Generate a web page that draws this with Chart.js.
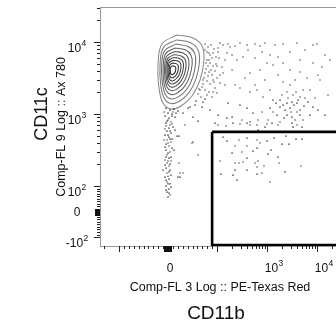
<!DOCTYPE html>
<html><head><meta charset="utf-8">
<script src="https://cdn.jsdelivr.net/npm/chart.js@4.4.1/dist/chart.umd.min.js"></script>
<style>
html,body{margin:0;padding:0;background:#fff;overflow:hidden;width:336px;height:329px;}
#wrap{position:absolute;left:0;top:0;width:345px;height:329px;}
</style></head>
<body><div id="wrap"><canvas id="c"></canvas></div>
<script>
// ---------- axis settings (biexponential display) ----------
const xAxisTitle = "Comp-FL 3 Log :: PE-Texas Red";
const xMarker = "CD11b";
const yAxisTitle = "Comp-FL 9 Log :: Ax 780";
const yMarker = "CD11c";

const xLabelValues = [0, 1000, 10000];
const xLabelBases = ["0", "10", "10"];
const xLabelExps = ["", "3", "4"];
const yLabelValues = [-100, 0, 100, 1000, 10000];
const yLabelBases = ["-10", "0", "10", "10", "10"];
const yLabelExps = ["2", "", "2", "3", "4"];

const xMajorTicks = [-100, 100, 1000, 10000];
const xMinorTicks = [-200, -90, -80, -70, -60, -50, -40, -30, -20, -10, 10, 20, 30, 40, 50, 60, 70, 80, 90,
  200, 300, 400, 500, 600, 700, 800, 900, 2000, 3000, 4000, 5000, 6000, 7000, 8000, 9000, 20000];
const yMajorTicks = [-100, 100, 1000, 10000];
const yMinorTicks = [-90, -80, -70, -60, -50, -40, -30, -20, -10, 10, 20, 30, 40, 50, 60, 70, 80, 90,
  200, 300, 400, 500, 600, 700, 800, 900, 2000, 3000, 4000, 5000, 6000, 7000, 8000, 9000, 20000, 30000];

// ---------- contour rings of the main population (CD11b ~0, CD11c high) ----------
const ring1 = [[18.4,12500],[51,11370],[69.4,8800],[73.4,5627],[65.3,2968],[49,1779],[26.5,1292],[6.1,1174],[-10.2,1422],[-18.4,2298],[-20.4,4794],[-12.2,9385]];
const ring2 = [[16.9,10697],[45.1,9845],[60.8,7897],[64.3,5380],[57.3,3103],[43.2,1996],[23.9,1516],[6.3,1400],[-7.5,1648],[-14.7,2489],[-16.3,4688],[-9.4,8364]];
const ring3 = [[15.7,9354],[39.8,8717],[53.4,7220],[56.5,5178],[50.4,3225],[38.4,2211],[21.8,1745],[6.7,1621],[-5.5,1873],[-11.4,2671],[-13.1,4599],[-6.9,7549]];
const ring4 = [[14.7,8257],[35.1,7795],[46.7,6622],[49.4,4998],[44.1,3340],[33.9,2419],[19.8,1977],[6.9,1861],[-3.5,2101],[-8.6,2847],[-9.8,4511],[-4.7,6905]];
const ring5 = [[13.7,7384],[30.8,7039],[40.6,6134],[42.8,4841],[38.4,3449],[29.8,2628],[18,2218],[7.1,2108],[-1.6,2335],[-5.9,3016],[-6.9,4440],[-2.7,6352]];
const ring6 = [[12.6,6686],[26.9,6414],[35.1,5735],[36.9,4703],[33.3,3550],[26.1,2838],[16.3,2465],[7.3,2357],[0,2570],[-3.5,3174],[-4.5,4383],[-0.8,5883]];
const ring7 = [[11.8,6114],[23.7,5902],[30.2,5380],[31.6,4584],[28.8,3642],[22.8,3026],[14.7,2696],[7.3,2611],[1.6,2793],[-1.4,3319],[-2,4328],[0.8,5518]];
const ring8 = [[11,5590],[20.2,5449],[25.3,5061],[26.5,4469],[24.1,3736],[19.6,3235],[13.3,2958],[7.5,2884],[3.1,3045],[0.8,3482],[0.2,4272],[2.4,5161]];
const ring9 = [[10.2,5110],[16.7,5013],[20.4,4763],[21.2,4356],[19.6,3832],[16.3,3460],[11.8,3245],[7.8,3183],[4.5,3308],[2.9,3642],[2.4,4219],[4.1,4825]];
const ring10 = [[9.4,4673],[13.3,4614],[15.5,4483],[15.9,4245],[15.1,3931],[13.1,3700],[10.4,3561],[8,3516],[5.9,3595],[4.9,3808],[4.7,4165],[5.7,4511]];
const contourRings = [ring1, ring2, ring3, ring4, ring5, ring6, ring7, ring8, ring9, ring10];

// ---------- outlier events drawn as dots ----------
const eventsNearPop = [[75.5,9385],[81.6,8523],[87.7,9089],[93.8,7998],[79.6,7267],[85.7,6601],[91.8,7039],[97.9,6191],[79.6,5627],[85.7,5110],[91.8,4643],[97.9,4950],[77.5,4219],[83.6,3832],[89.8,3482],[95.9,3958],[73.4,3164],[79.6,2874],[85.7,2611],[91.8,2968],[69.4,2372],[75.5,2155],[83.6,2022],[61.2,1897],[67.3,1723],[75.5,1616],[57.1,1516],[95.9,2298],[100,3164],[105,8257],[110,5998],[81.6,4643],[71.4,2611],[63.2,2226],[89.8,1723],
  [75.5,7745],[83.6,7039],[89.8,5998],[77.5,5110],[83.6,5627],[75.5,3712],[87.7,4087],[71.4,2968],[81.6,3373],[93.8,2783],[65.3,2155],[79.6,1837],[71.4,1468],[55.1,1334],[40.8,1212],[100,4643],[115,3482],[91.8,2022]];
const eventsTopBand = [[115,9690],[132,9089],[166,9385],[229,8800],[288,9690],[398,9089],[575,9385],[912,9690],[1445,9089],[2089,9385],[3981,9690],[8318,9089],[10000,9385],[182,8523],[724,8800]];
const eventsMid = [[105,7267],[158,7039],[200,6601],[251,5627],[331,6191],[126,4498],[200,4087],[132,3712],[115,2696],[100,1960],[145,2529],[229,2529],[457,3712],[724,4087],[1000,5110],[1318,4794],[2089,5110],[4571,5627],[8318,5110],[11482,2968],[4571,3832],[3631,2968],[2089,2783],[2884,2529],[6310,3164],[12589,4498],[288,2298],[457,2022],[631,2155],[832,1723],[1318,1565],[1820,1565],[2512,1422],[3162,1468],[3981,1422],[4571,1723],[5754,1669],[1820,1251],[2291,1137],[2884,1212],[3981,1067],[4571,1137],[1318,1067],[1585,969],[2512,969],[3162,909],[3631,826],[5248,826],[7244,969],[8318,1251],[5248,2155],[2512,2022],[3311,1837],[6607,1468],[166,1422],[288,1334],[398,1212],[525,1033],[200,909],[105,969],[85.7,1137],[69.4,1251],[44.9,1251],[30.6,1033],[51,909],[158,880],[316,826],[457,775],[661,826],[1047,826],[363,3164],[575,5998],[1148,6601],[2884,7267],[14454,6601],[1660,3482],[912,2968],[16596,1837],[10471,1137],[1995,1837],[2630,1669],[3467,1334],[2188,880],[1148,1212],[794,1067],[4169,1565],[5495,1292],
  [4.1,704],[34.7,704],[61.2,800],[95.9,750],[105,704],[151,682],[209,750],[288,727],[398,750],[457,704],[631,704],[1000,727],[1259,750],[1660,704],[1820,775],[3162,750],[3981,704],[5012,660],[3311,660],[661,600],[912,660],
  [145,5627],[417,7745],[794,7267],[1660,6191],[5754,7745],[18200,5627],[10471,3482],[2884,4087],[575,2529],[1148,2155],[7244,2155],[2089,1334],[3020,1067],[4571,969],[1514,1422],[3802,2022],[9120,1669],[14454,969]];
const eventsInGate = [[132,479],[158,422],[275,436],[398,464],[631,436],[724,396],[1000,422],[1380,464],[2399,495],[3802,450],[5012,450],[229,360],[398,360],[631,337],[1202,316],[1995,383],[2754,383],[200,287],[316,297],[525,306],[1047,278],[1660,253],[398,245],[115,223],[229,209],[275,209],[331,216],[575,209],[661,223],[1738,209],[4786,190],[631,184],[871,190],[229,167],[398,167],[120,147],[209,142],[631,147],[794,152],[2291,157],[251,121],[1148,114]];
const eventsTail = [[-4.1,1212],[4.1,1137],[12.2,1174],[20.4,1101],[0,1033],[8.2,1000],[-6.1,938],[2,880],[14.3,909],[-2,800],[6.1,775],[-4.1,682],[2,639],[10.2,660],[-2,581],[6.1,545],[-6.1,511],[2,479],[-2,436],[6.1,409],[-4.1,383],[2,360],[8.2,337],[-4.1,316],[4.1,297],[-2,270],[2,245],[-6.1,230],[6.1,223],[-2,209],[2,190],[-4.1,178],[4.1,167],[-2,152],[6.1,142],[-6.1,133],[2,125],[-2,114],[4.1,107],[-4.1,100],[2,88],[-2,76],[4.1,65],[0,57],[22.4,495],[18.4,495],[51,409],[49,396],[61.2,270],[22.4,209],[24.5,152],[30.6,152],[24.5,133],[20.4,133],[14.3,600],[-8.2,436],[12.2,316],[-10.2,167],
  [-8.2,1067],[10.2,1067],[16.3,1033],[0,826],[8.2,727],[-6.1,620],[4.1,450],[0,396],[-4.1,253],[4.1,202],[0,137],[-4.1,84],[6.1,96],
  [8.2,938],[-4.1,750],[4.1,581],[0,511],[8.2,450],[-6.1,348],[0,287],[6.1,253],[0,223],[-6.1,196],[2,157],[-4.1,121],[0,107],[2,72.5]];

// ---------- gate (CD11b+ region) ----------
const gateCorners = [[90,565],[60000,565],[60000,-129],[90,-129],[90,565]];

// ---------- axis ranges / transform parameters ----------
const xRange = [-240, 27540];
const yRange = [-133, 30620];
const xTransform = {T: 100, s: 0.98};
const yTransform = {T: 100, s: 0.354};

// ---------- biexponential scale ----------
function biexFwd(v, T, s) { const a = Math.abs(v); const r = a <= T ? a / T * s : s + Math.log10(a / T); return v < 0 ? -r : r; }
function biexInv(r, T, s) { const a = Math.abs(r); const v = a <= s ? a / s * T : T * Math.pow(10, a - s); return r < 0 ? -v : v; }

class BiexScale extends Chart.Scale {
  parse(raw) { return raw == null ? null : +raw; }
  determineDataLimits() { this.min = this.options.min; this.max = this.options.max; }
  buildTicks() { return (this.options.tickValues || []).map(v => ({value: v})); }
  getLabelForValue(v) { return String(v); }
  configure() {
    super.configure();
    const o = this.options;
    this._t0 = biexFwd(this.min, o.T, o.s);
    this._t1 = biexFwd(this.max, o.T, o.s);
  }
  getPixelForValue(v) {
    const o = this.options;
    return this.getPixelForDecimal((biexFwd(v, o.T, o.s) - this._t0) / (this._t1 - this._t0));
  }
  getValueForPixel(p) {
    const o = this.options;
    return biexInv(this._t0 + this.getDecimalForPixel(p) * (this._t1 - this._t0), o.T, o.s);
  }
}
BiexScale.id = 'biex';
BiexScale.defaults = {};
Chart.register(BiexScale);

const FONT = '"Liberation Sans", Arial, Helvetica, sans-serif';

function drawPowLabel(ctx, base, exp, cx, baseY) {
  ctx.font = '12px ' + FONT;
  const wb = ctx.measureText(base).width;
  ctx.font = '8.5px ' + FONT;
  const we = exp ? ctx.measureText(exp).width : 0;
  const total = wb + (exp ? we + 0.5 : 0);
  const x0 = cx - total / 2;
  ctx.textAlign = 'left';
  ctx.textBaseline = 'alphabetic';
  ctx.font = '12px ' + FONT;
  ctx.fillText(base, x0, baseY);
  if (exp) { ctx.font = '8.5px ' + FONT; ctx.fillText(exp, x0 + wb + 0.5, baseY - 6); }
}

const axesPlugin = {
  id: 'flowAxes',
  beforeDatasetsDraw(chart) {
    const {ctx, chartArea: a} = chart;
    ctx.save();
    ctx.strokeStyle = '#9a9a9a';
    ctx.lineWidth = 1;
    ctx.strokeRect(a.left + 0.5, a.top + 0.5, a.right - a.left, a.bottom - a.top);
    ctx.restore();
  },
  afterDraw(chart) {
    const {ctx, chartArea: a} = chart;
    const xs = chart.scales.x, ys = chart.scales.y;
    ctx.save();
    ctx.strokeStyle = '#222';
    ctx.fillStyle = '#111';
    ctx.lineWidth = 1;
    const yt = (v, len) => { const p = Math.round(ys.getPixelForValue(v)) + 0.5; ctx.beginPath(); ctx.moveTo(a.left - len, p); ctx.lineTo(a.left, p); ctx.stroke(); };
    yMinorTicks.forEach(v => yt(v, 3));
    yMajorTicks.forEach(v => yt(v, 6));
    const y0 = ys.getPixelForValue(0);
    ctx.fillRect(a.left - 5, Math.round(y0) - 3, 5, 7);
    const xt = (v, len) => { const p = Math.round(xs.getPixelForValue(v)) + 0.5; ctx.beginPath(); ctx.moveTo(p, a.bottom); ctx.lineTo(p, a.bottom + len); ctx.stroke(); };
    xMinorTicks.forEach(v => xt(v, 3));
    xMajorTicks.forEach(v => xt(v, 6));
    const x0 = xs.getPixelForValue(0);
    ctx.fillRect(Math.round(x0) - 4, a.bottom, 8, 6);
    ctx.fillStyle = '#111';
    yLabelValues.forEach((v, i) => {
      const p = ys.getPixelForValue(v);
      drawPowLabel(ctx, yLabelBases[i], yLabelExps[i], 77, p + (yLabelExps[i] ? 9.5 : 4.5));
    });
    xLabelValues.forEach((v, i) => {
      const p = xs.getPixelForValue(v);
      drawPowLabel(ctx, xLabelBases[i], xLabelExps[i], p + (xLabelExps[i] ? 7 : 2), a.bottom + 25.5);
    });
    ctx.textAlign = 'center';
    ctx.textBaseline = 'middle';
    ctx.font = '12.5px ' + FONT;
    ctx.fillText(xAxisTitle, 220, 288);
    ctx.font = '19px ' + FONT;
    ctx.fillText(xMarker, 216, 314);
    ctx.save();
    ctx.translate(62, 127);
    ctx.rotate(-Math.PI / 2);
    ctx.font = '12.5px ' + FONT;
    ctx.fillText(yAxisTitle, 0, 0);
    ctx.restore();
    ctx.save();
    ctx.translate(42, 114);
    ctx.rotate(-Math.PI / 2);
    ctx.font = '18px ' + FONT;
    ctx.fillText(yMarker, 0, 0);
    ctx.restore();
    ctx.restore();
  }
};

const toPts = arr => arr.map(([x, y]) => ({x, y}));
const ringColors = ['#8a8a8a', '#7c7c7c', '#707070', '#646464', '#585858', '#4c4c4c', '#424242', '#383838', '#303030', '#282828'];

const datasets = [];
datasets.push({label: 'gate', data: toPts(gateCorners), showLine: true, borderColor: '#000', borderWidth: 2.6, pointRadius: 0, tension: 0, order: 0});
[eventsNearPop, eventsTopBand, eventsMid, eventsInGate, eventsTail].forEach((ev, i) => {
  datasets.push({label: 'events' + i, data: toPts(ev), showLine: false, pointStyle: 'rect', pointRadius: 0.85, pointBorderWidth: 0, backgroundColor: '#000', borderColor: '#000', order: 1});
});
contourRings.forEach((r, i) => {
  datasets.push({label: 'contour' + i, data: toPts(r.concat([r[0]])), showLine: true, borderColor: ringColors[i], borderWidth: 1.05, pointRadius: 0, tension: 0.4, order: 2});
});

new Chart(document.getElementById('c'), {
  type: 'scatter',
  data: {datasets},
  options: {
    responsive: true,
    maintainAspectRatio: false,
    animation: false,
    events: [],
    layout: {padding: {left: 100, top: 7, right: 6, bottom: 83}},
    plugins: {legend: {display: false}, tooltip: {enabled: false}},
    scales: {
      x: {type: 'biex', display: false, min: xRange[0], max: xRange[1], T: xTransform.T, s: xTransform.s, tickValues: xLabelValues},
      y: {type: 'biex', display: false, min: yRange[0], max: yRange[1], T: yTransform.T, s: yTransform.s, tickValues: yLabelValues}
    }
  },
  plugins: [axesPlugin]
});
</script>
</body></html>
